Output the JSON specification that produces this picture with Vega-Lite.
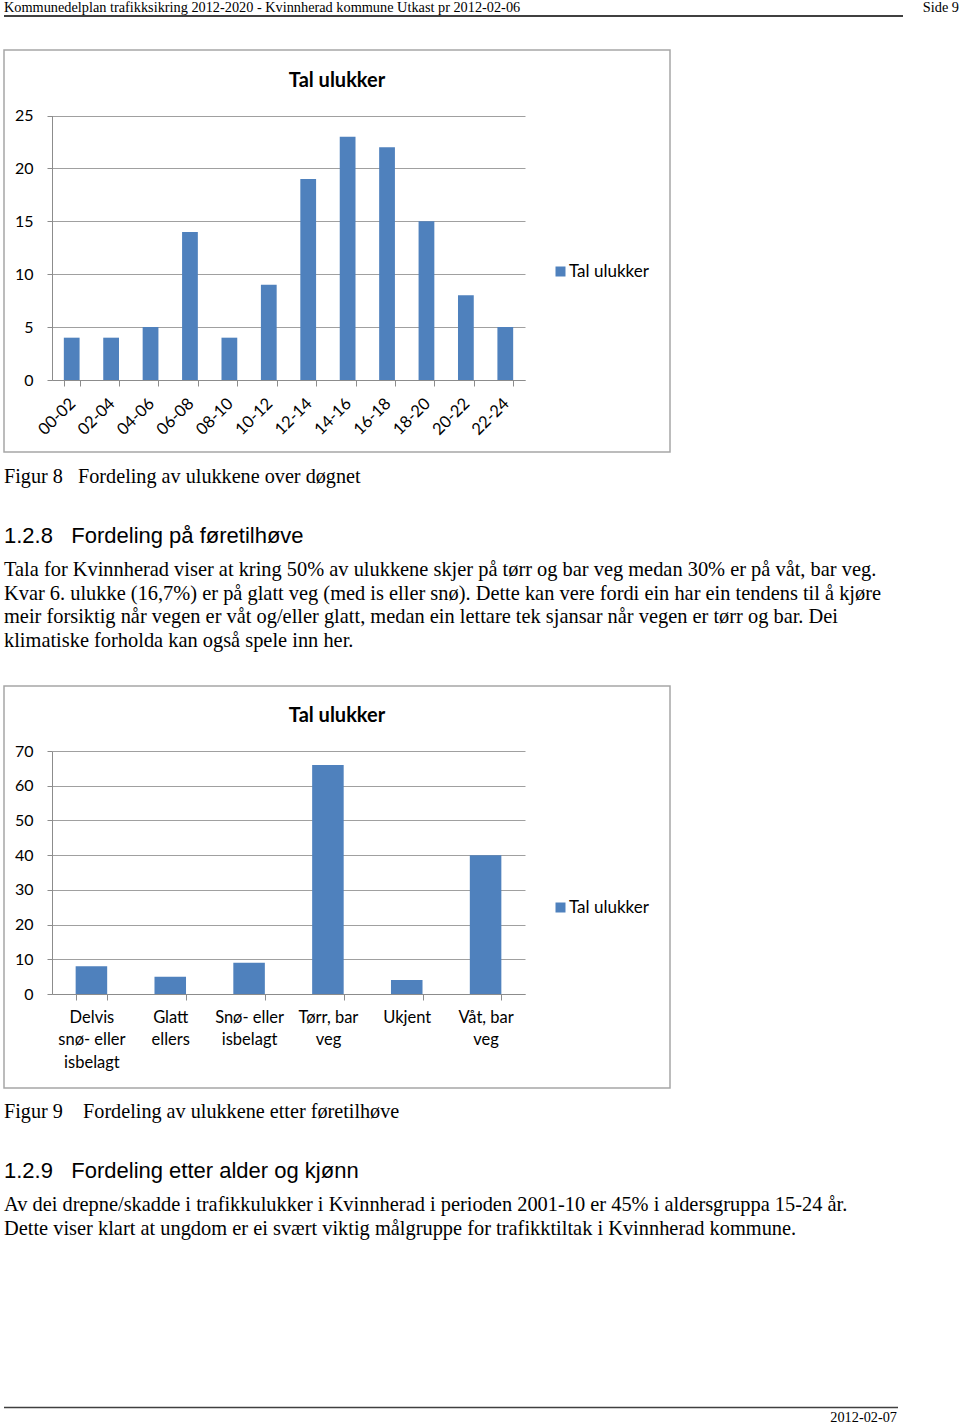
{
  "$schema": "https://vega.github.io/schema/vega-lite/v6.json",
  "background": "white",
  "padding": {"left": 3, "top": 0, "right": 0, "bottom": 0},
  "spacing": 0,
  "bounds": "flush",
  "resolve": {"scale": {"color": "independent"}, "legend": {"color": "independent"}},
  "config": {"view": {"stroke": null}, "font": "Lato"},
  "vconcat": [
    {
      "width": 955, "height": 16,
      "layer": [
        {
          "data": {"values": [{"text": "Kommunedelplan trafikksikring 2012-2020 - Kvinnherad kommune Utkast pr 2012-02-06"}]},
          "mark": {"type": "text", "align": "left", "baseline": "middle", "font": "Liberation Serif", "fontSize": 14.3, "color": "#000"},
          "encoding": {"x": {"datum": 0, "type": "quantitative", "scale": {"domain": [0, 1]}, "axis": null}, "text": {"field": "text"}}
        },
        {
          "data": {"values": [{"text": "Side 9"}]},
          "mark": {"type": "text", "align": "right", "baseline": "middle", "font": "Liberation Serif", "fontSize": 14.3, "color": "#000"},
          "encoding": {"x": {"datum": 1, "type": "quantitative", "scale": {"domain": [0, 1]}, "axis": null}, "text": {"field": "text"}}
        }
      ]
    },
    {
      "width": 899, "height": 34,
      "data": {"values": [{}]},
      "mark": {"type": "rule", "color": "#404040", "strokeWidth": 2},
      "encoding": {
        "x": {"datum": 0, "type": "quantitative", "scale": {"domain": [0, 1]}, "axis": null},
        "x2": {"datum": 1},
        "y": {"datum": 1, "type": "quantitative", "scale": {"domain": [0, 1]}, "axis": null}
      }
    },
    {
      "width": 666, "height": 402,
      "view": {"stroke": "#a6a6a6", "strokeWidth": 1.5},
      "title": {"text": "Tal ulukker", "font": "Lato", "fontSize": 20, "fontWeight": "bold", "color": "#000", "anchor": "middle", "offset": -41},
      "data": {"values": [
        {"tid": "00-02", "tal": 4}, {"tid": "02-04", "tal": 4}, {"tid": "04-06", "tal": 5},
        {"tid": "06-08", "tal": 14}, {"tid": "08-10", "tal": 4}, {"tid": "10-12", "tal": 9},
        {"tid": "12-14", "tal": 19}, {"tid": "14-16", "tal": 23}, {"tid": "16-18", "tal": 22},
        {"tid": "18-20", "tal": 15}, {"tid": "20-22", "tal": 8}, {"tid": "22-24", "tal": 5}
      ]},
      "mark": {"type": "bar"},
      "encoding": {
        "x": {"field": "tid", "type": "nominal", "sort": null,
          "scale": {"range": [48, 521], "paddingInner": 0.6, "paddingOuter": 0.3},
          "axis": {"title": null, "orient": "bottom", "offset": -72, "domainColor": "#8c8c8c", "tickColor": "#8c8c8c", "tickSize": 6, "tickBand": "extent", "labelAngle": -45, "labelFont": "Lato", "labelFontSize": 16.5, "labelColor": "#000", "labelPadding": 9, "labelOffset": -5, "labelOverlap": false, "grid": false}},
        "y": {"field": "tal", "type": "quantitative",
          "scale": {"domain": [0, 25], "range": [330, 65.5], "nice": false},
          "axis": {"title": null, "offset": -48, "values": [0, 5, 10, 15, 20, 25], "domainColor": "#8c8c8c", "tickColor": "#8c8c8c", "tickSize": 5, "grid": true, "gridColor": "#a0a0a0", "labelFont": "Lato", "labelFontSize": 16, "labelColor": "#000", "labelPadding": 14}},
        "color": {"datum": "Tal ulukker", "scale": {"range": ["#4f81bd"]},
          "legend": {"title": null, "orient": "none", "legendX": 548, "legendY": 213, "symbolType": "square", "symbolSize": 100, "symbolStrokeWidth": 0, "labelFont": "Lato", "labelFontSize": 17, "labelColor": "#000", "labelOffset": 0, "padding": 0}}
      }
    },
    {
      "width": 666, "height": 49,
      "data": {"values": [{"text": "Figur 8\u00a0\u00a0 Fordeling av ulukkene over døgnet"}]},
      "mark": {"type": "text", "align": "left", "baseline": "middle", "font": "Liberation Serif", "fontSize": 20.2, "color": "#000"},
      "encoding": {"x": {"datum": 0, "type": "quantitative", "scale": {"domain": [0, 1]}, "axis": null}, "text": {"field": "text"}}
    },
    {
      "width": 666, "height": 69,
      "data": {"values": [{"text": "1.2.8\u00a0\u00a0 Fordeling på føretilhøve"}]},
      "mark": {"type": "text", "align": "left", "baseline": "middle", "font": "Liberation Sans", "fontSize": 22, "color": "#000"},
      "encoding": {"x": {"datum": 0, "type": "quantitative", "scale": {"domain": [0, 1]}, "axis": null}, "text": {"field": "text"}}
    },
    {
      "width": 666, "height": 116,
      "data": {"values": [
        {"line": 1, "text": "Tala for Kvinnherad viser at kring 50% av ulukkene skjer på tørr og bar veg medan 30% er på våt, bar veg."},
        {"line": 2, "text": "Kvar 6. ulukke (16,7%) er på glatt veg (med is eller snø). Dette kan vere fordi ein har ein tendens til å kjøre"},
        {"line": 3, "text": "meir forsiktig når vegen er våt og/eller glatt, medan ein lettare tek sjansar når vegen er tørr og bar. Dei"},
        {"line": 4, "text": "klimatiske forholda kan også spele inn her."}
      ]},
      "mark": {"type": "text", "align": "left", "baseline": "middle", "font": "Liberation Serif", "fontSize": 20.4, "color": "#000"},
      "encoding": {
        "x": {"datum": 0, "type": "quantitative", "scale": {"domain": [0, 1]}, "axis": null},
        "y": {"field": "line", "type": "ordinal", "scale": {"type": "point", "padding": 0, "range": [0, 71.1]}, "axis": null},
        "text": {"field": "text"}
      }
    },
    {
      "width": 666, "height": 402,
      "view": {"stroke": "#a6a6a6", "strokeWidth": 1.5},
      "title": {"text": "Tal ulukker", "font": "Lato", "fontSize": 20, "fontWeight": "bold", "color": "#000", "anchor": "middle", "offset": -40},
      "data": {"values": [
        {"kategori": "Delvis snø- eller isbelagt", "tal": 8},
        {"kategori": "Glatt ellers", "tal": 5},
        {"kategori": "Snø- eller isbelagt", "tal": 9},
        {"kategori": "Tørr, bar veg", "tal": 66},
        {"kategori": "Ukjent", "tal": 4},
        {"kategori": "Våt, bar veg", "tal": 40}
      ]},
      "mark": {"type": "bar"},
      "encoding": {
        "x": {"field": "kategori", "type": "nominal", "sort": null,
          "scale": {"range": [48, 521], "paddingInner": 0.6, "paddingOuter": 0.3},
          "axis": {"title": null, "orient": "bottom", "offset": -94, "domainColor": "#8c8c8c", "tickColor": "#8c8c8c", "tickSize": 6, "tickBand": "extent", "labelAngle": 0, "labelFont": "Lato", "labelFontSize": 16.5, "labelColor": "#000", "labelPadding": 9, "labelLineHeight": 22.5, "labelBaseline": "top", "labelOverlap": false, "grid": false,
            "labelExpr": "datum.value == 'Delvis snø- eller isbelagt' ? ['Delvis', 'snø- eller', 'isbelagt'] : datum.value == 'Glatt ellers' ? ['Glatt', 'ellers'] : datum.value == 'Snø- eller isbelagt' ? ['Snø- eller', 'isbelagt'] : datum.value == 'Tørr, bar veg' ? ['Tørr, bar', 'veg'] : datum.value == 'Våt, bar veg' ? ['Våt, bar', 'veg'] : datum.value"}},
        "y": {"field": "tal", "type": "quantitative",
          "scale": {"domain": [0, 70], "range": [308, 65], "nice": false},
          "axis": {"title": null, "offset": -48, "values": [0, 10, 20, 30, 40, 50, 60, 70], "domainColor": "#8c8c8c", "tickColor": "#8c8c8c", "tickSize": 5, "grid": true, "gridColor": "#a0a0a0", "labelFont": "Lato", "labelFontSize": 16, "labelColor": "#000", "labelPadding": 14}},
        "color": {"datum": "Tal ulukker", "scale": {"range": ["#4f81bd"]},
          "legend": {"title": null, "orient": "none", "legendX": 548, "legendY": 213, "symbolType": "square", "symbolSize": 100, "symbolStrokeWidth": 0, "labelFont": "Lato", "labelFontSize": 17, "labelColor": "#000", "labelOffset": 0, "padding": 0}}
      }
    },
    {
      "width": 666, "height": 48,
      "data": {"values": [{"text": "Figur 9\u00a0\u00a0\u00a0 Fordeling av ulukkene etter føretilhøve"}]},
      "mark": {"type": "text", "align": "left", "baseline": "middle", "font": "Liberation Serif", "fontSize": 20.2, "color": "#000"},
      "encoding": {"x": {"datum": 0, "type": "quantitative", "scale": {"domain": [0, 1]}, "axis": null}, "text": {"field": "text"}}
    },
    {
      "width": 666, "height": 69,
      "data": {"values": [{"text": "1.2.9\u00a0\u00a0 Fordeling etter alder og kjønn"}]},
      "mark": {"type": "text", "align": "left", "baseline": "middle", "font": "Liberation Sans", "fontSize": 22, "color": "#000"},
      "encoding": {"x": {"datum": 0, "type": "quantitative", "scale": {"domain": [0, 1]}, "axis": null}, "text": {"field": "text"}}
    },
    {
      "width": 666, "height": 24,
      "data": {"values": [
        {"line": 1, "text": "Av dei drepne/skadde i trafikkulukker i Kvinnherad i perioden 2001-10 er 45% i aldersgruppa 15-24 år."},
        {"line": 2, "text": "Dette viser klart at ungdom er ei svært viktig målgruppe for trafikktiltak i Kvinnherad kommune."}
      ]},
      "mark": {"type": "text", "align": "left", "baseline": "middle", "font": "Liberation Serif", "fontSize": 20.4, "color": "#000"},
      "encoding": {
        "x": {"datum": 0, "type": "quantitative", "scale": {"domain": [0, 1]}, "axis": null},
        "y": {"field": "line", "type": "ordinal", "scale": {"type": "point", "padding": 0, "range": [0, 24]}, "axis": null},
        "text": {"field": "text"}
      }
    },
    {
      "width": 894, "height": 178.5,
      "data": {"values": [{}]},
      "mark": {"type": "rule", "color": "#404040", "strokeWidth": 1.5},
      "encoding": {
        "x": {"datum": 0, "type": "quantitative", "scale": {"domain": [0, 1]}, "axis": null},
        "x2": {"datum": 1},
        "y": {"datum": 0, "type": "quantitative", "scale": {"domain": [0, 1]}, "axis": null}
      }
    },
    {
      "width": 893, "height": 19,
      "data": {"values": [{"text": "2012-02-07"}]},
      "mark": {"type": "text", "align": "right", "baseline": "middle", "font": "Liberation Serif", "fontSize": 14.3, "color": "#000"},
      "encoding": {"x": {"datum": 1, "type": "quantitative", "scale": {"domain": [0, 1]}, "axis": null}, "text": {"field": "text"}}
    }
  ]
}
